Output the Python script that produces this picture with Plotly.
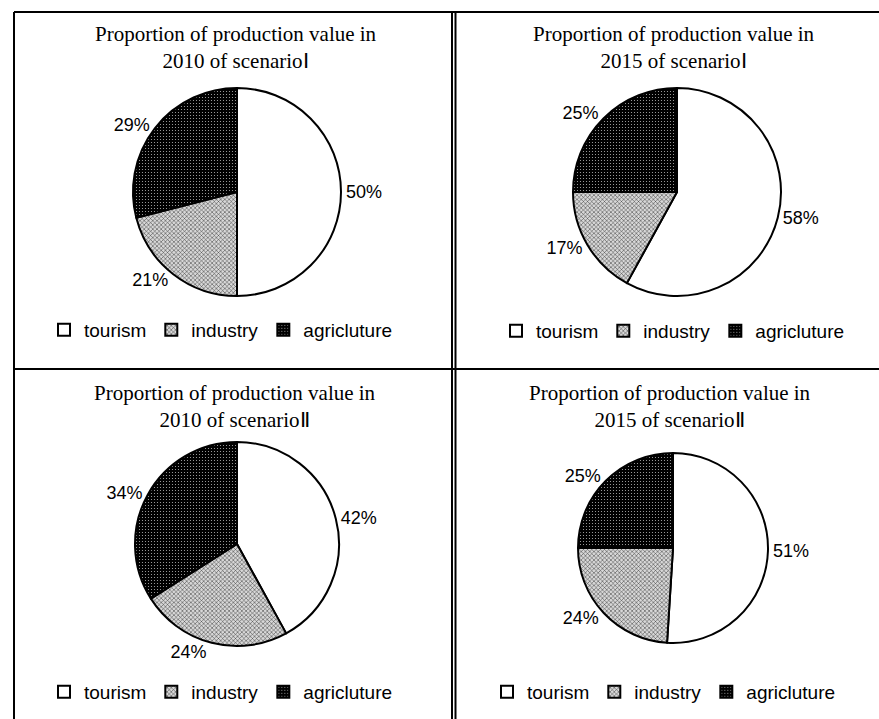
import plotly.graph_objects as go

W, H = 879, 719

sectors = ["tourism", "industry", "agricluture"]
titles = [
    "Proportion of production value in<br>2010 of scenario\u2160",
    "Proportion of production value in<br>2015 of scenario\u2160",
    "Proportion of production value in<br>2010 of scenario\u2161",
    "Proportion of production value in<br>2015 of scenario\u2161",
]
share_2010_s1 = [50, 21, 29]
share_2015_s1 = [58, 17, 25]
share_2010_s2 = [42, 24, 34]
share_2015_s2 = [51, 24, 25]
all_shares = [share_2010_s1, share_2015_s1, share_2010_s2, share_2015_s2]

# layout (pixels): pie center x, center y, radius; title center; legend left/y
pies = [
    dict(cx=237, cy=192, r=104, tx=236, ty=47, lx=44, ly=330),
    dict(cx=677, cy=192, r=104, tx=674, ty=47, lx=496, ly=331),
    dict(cx=237, cy=544, r=102, tx=235, ty=406, lx=44, ly=692),
    dict(cx=673, cy=548, r=95, tx=670, ty=406, lx=487, ly=692),
]

def px_x(x):
    return x / W

def px_y(y):
    return 1 - y / H

fig = go.Figure()
legend_names = ["legend", "legend2", "legend3", "legend4"]
for i, (vals, p) in enumerate(zip(all_shares, pies)):
    # zero-width spaces keep each pie's legend entries distinct
    labels = [s + "\u200b" * i for s in sectors]
    fig.add_trace(go.Pie(
        labels=labels,
        values=vals,
        sort=False,
        direction="clockwise",
        rotation=0,
        texttemplate="%{value}%",
        textposition="outside",
        textfont=dict(family="Liberation Sans, Arial, sans-serif", size=18, color="black"),
        marker=dict(
            colors=["white", "#cccccc", "black"],
            line=dict(color="black", width=2),
            pattern=dict(
                shape=["", "x", "."],
                fgcolor=["black", "#333333", "#b0b0b0"],
                bgcolor=["white", "#d8d8d8", "black"],
                size=[4, 3, 3],
                solidity=[0.3, 0.3, 0.12],
            ),
        ),
        domain=dict(
            x=[px_x(p["cx"] - p["r"]), px_x(p["cx"] + p["r"])],
            y=[px_y(p["cy"] + p["r"]), px_y(p["cy"] - p["r"])],
        ),
        legend=legend_names[i],
        hoverinfo="label+percent",
        showlegend=True,
    ))

annotations = []
for t, p in zip(titles, pies):
    annotations.append(dict(
        text=t, xref="paper", yref="paper",
        x=px_x(p["tx"]), y=px_y(p["ty"]), xanchor="center", yanchor="middle",
        showarrow=False, align="center",
        font=dict(family="Liberation Serif, Times New Roman, serif", size=21, color="black"),
    ))

legend_cfg = {}
for name, p in zip(legend_names, pies):
    legend_cfg[name] = dict(
        orientation="h",
        x=px_x(p["lx"]), y=px_y(p["ly"]), xanchor="left", yanchor="middle",
        font=dict(family="Liberation Sans, Arial, sans-serif", size=19, color="black"),
        bgcolor="rgba(0,0,0,0)", borderwidth=0,
        itemwidth=30, traceorder="normal",
    )

line = dict(color="black", width=2)
shapes = [
    dict(type="line", xref="paper", yref="paper", x0=px_x(14), x1=px_x(14), y0=px_y(12), y1=px_y(719), line=line),
    dict(type="line", xref="paper", yref="paper", x0=px_x(14), x1=px_x(879), y0=px_y(12), y1=px_y(12), line=line),
    dict(type="line", xref="paper", yref="paper", x0=px_x(452), x1=px_x(452), y0=px_y(12), y1=px_y(719), line=line),
    dict(type="line", xref="paper", yref="paper", x0=px_x(455.5), x1=px_x(455.5), y0=px_y(12), y1=px_y(719), line=line),
    dict(type="line", xref="paper", yref="paper", x0=px_x(14), x1=px_x(879), y0=px_y(369), y1=px_y(369), line=line),
]

fig.update_layout(
    width=W, height=H,
    margin=dict(l=0, r=0, t=0, b=0),
    paper_bgcolor="white", plot_bgcolor="white",
    annotations=annotations,
    shapes=shapes,
    **legend_cfg,
)

fig.write_html("out.html")
